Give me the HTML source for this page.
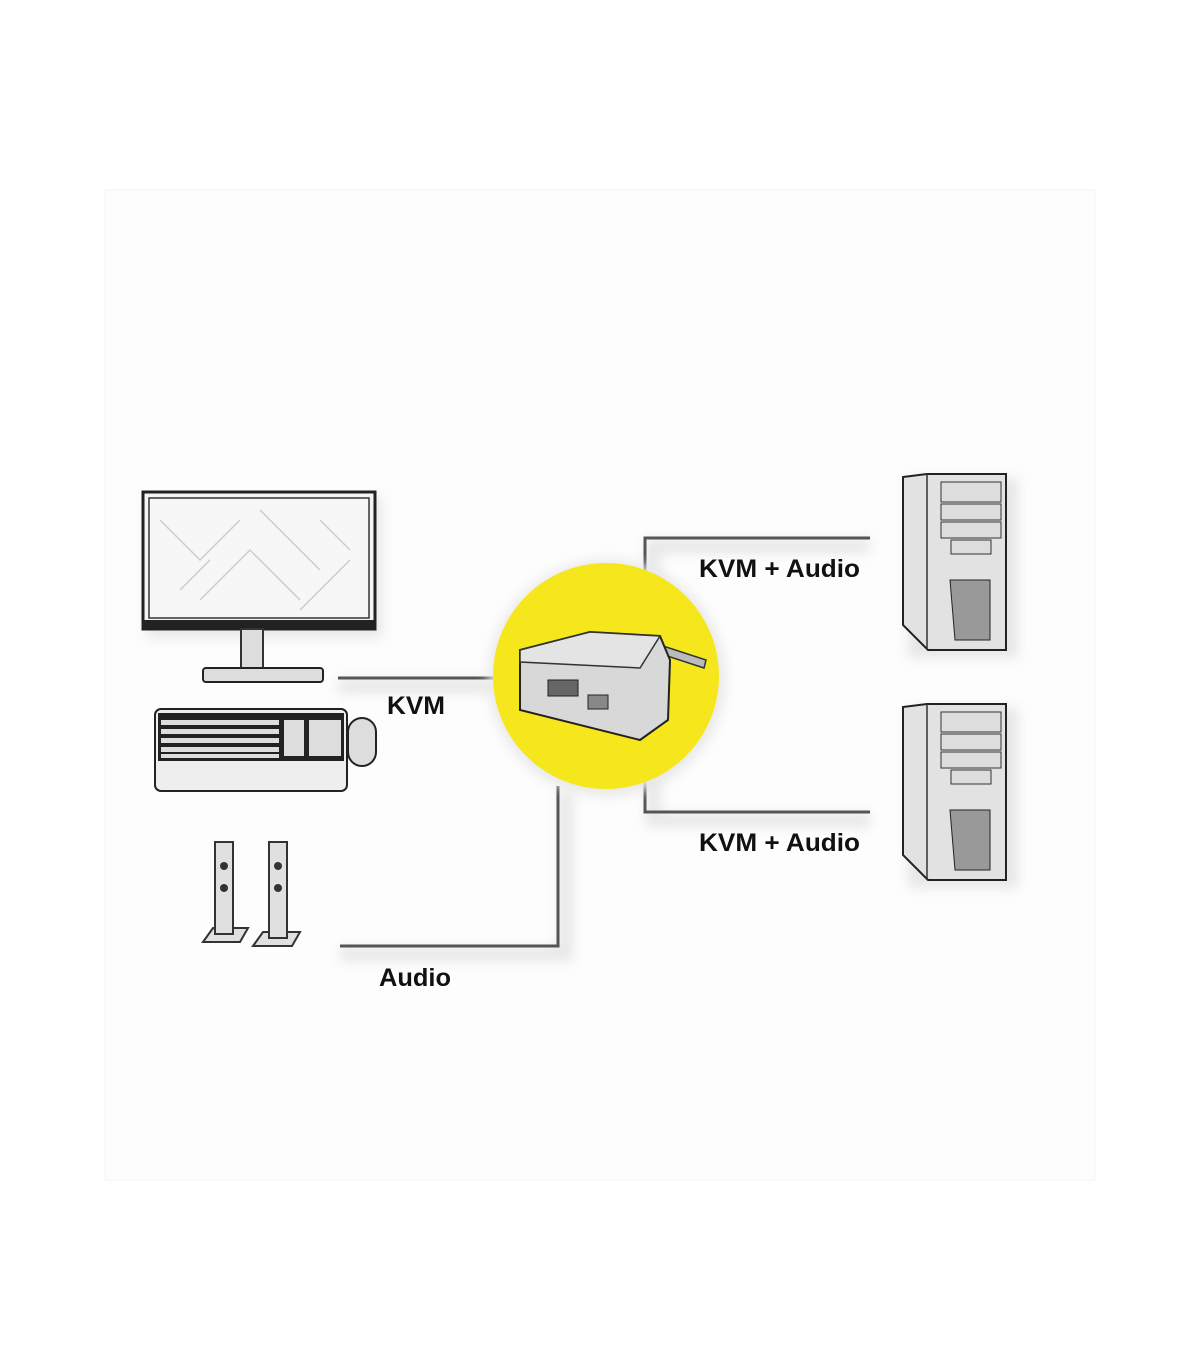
<!DOCTYPE html>
<html><head><meta charset="utf-8"><style>
html,body{margin:0;padding:0;background:#fff;}
svg{display:block}
text{font-family:"Liberation Sans",sans-serif;font-weight:bold;fill:#111;}
</style></head><body>
<svg width="1200" height="1372" viewBox="0 0 1200 1372" xmlns="http://www.w3.org/2000/svg">
<defs>
<filter id="sh" x="-20%" y="-20%" width="140%" height="140%"><feGaussianBlur stdDeviation="6"/></filter>
</defs>
<rect x="0" y="0" width="1200" height="1372" fill="#fff"/>
<rect x="105" y="190" width="990" height="990" fill="#fdfdfd" stroke="#f4f4f4"/>

<g stroke="#e6e6e6" stroke-width="14" fill="none" filter="url(#sh)">
<path d="M338 686 H495"/><path d="M340 954 H566 V790"/>
<path d="M653 610 V546 H870"/><path d="M653 770 V820 H870"/>
</g>
<g stroke="#555" stroke-width="3" fill="none">
<path d="M338 678 H497"/>
<path d="M340 946 H558 V786"/>
<path d="M645 600 V538 H870"/>
<path d="M645 774 V812 H870"/>
</g>

<rect x="146" y="498" width="236" height="140" fill="#e8e8e8" filter="url(#sh)"/>
<rect x="143" y="492" width="232" height="137" fill="#f4f4f4" stroke="#222" stroke-width="3"/>
<rect x="149" y="498" width="220" height="120" fill="#f7f7f7" stroke="#333" stroke-width="1.5"/>
<g stroke="#ccc" stroke-width="1.5" fill="none">
<path d="M160 520 l40 40 l40 -40 M200 600 l50 -50 l50 50 M260 510 l60 60 M300 610 l50 -50 M180 590 l30 -30 M320 520 l30 30"/>
</g>
<rect x="143" y="620" width="232" height="9" fill="#222"/>
<rect x="241" y="629" width="22" height="42" fill="#ddd" stroke="#333" stroke-width="2"/>
<rect x="203" y="668" width="120" height="14" rx="3" fill="#ddd" stroke="#222" stroke-width="2"/>

<rect x="155" y="709" width="192" height="82" rx="6" fill="#eee" stroke="#222" stroke-width="2"/>
<rect x="158" y="713" width="186" height="48" fill="#222"/>
<g fill="#ddd">
<rect x="161" y="720" width="118" height="5"/><rect x="161" y="729" width="118" height="5"/><rect x="161" y="738" width="118" height="5"/><rect x="161" y="747" width="118" height="5"/><rect x="161" y="754" width="118" height="4"/>
<rect x="284" y="720" width="20" height="36"/><rect x="309" y="720" width="32" height="36"/>
</g>
<rect x="348" y="718" width="28" height="48" rx="14" fill="#ddd" stroke="#222" stroke-width="2"/>

<g fill="#e0e0e0" stroke="#333" stroke-width="2">
<path d="M203 942 L213 928 H248 L240 942 Z"/>
<rect x="215" y="842" width="18" height="92"/>
<path d="M253 946 L263 932 H300 L292 946 Z"/>
<rect x="269" y="842" width="18" height="96"/>
</g>
<g fill="#333"><circle cx="224" cy="866" r="4"/><circle cx="224" cy="888" r="4"/><circle cx="278" cy="866" r="4"/><circle cx="278" cy="888" r="4"/></g>

<circle cx="607" cy="678" r="118" fill="#e8e8e8" filter="url(#sh)"/>
<circle cx="606" cy="676" r="113" fill="#f6e71d"/>
<path d="M660 645 L706 660 L704 668 L655 652 Z" fill="#bbb" stroke="#333" stroke-width="1.5"/>
<path d="M520 650 L590 632 L660 636 L670 660 L668 720 L640 740 L520 710 Z" fill="#d8d8d8" stroke="#222" stroke-width="2"/>
<path d="M520 650 L590 632 L660 636 L640 668 L520 662 Z" fill="#e4e4e4" stroke="#333" stroke-width="1.5"/>
<rect x="548" y="680" width="30" height="16" fill="#666" stroke="#222"/>
<rect x="588" y="695" width="20" height="14" fill="#888" stroke="#222"/>

<g>
<rect x="908" y="478" width="110" height="180" fill="#e6e6e6" filter="url(#sh)"/>
<path d="M903 477 L927 474 H1006 V650 H928 L903 625 Z" fill="#e2e2e2" stroke="#222" stroke-width="2"/>
<path d="M927 474 V650" stroke="#333" stroke-width="1.5"/>
<rect x="941" y="482" width="60" height="20" fill="#ddd" stroke="#333"/>
<rect x="941" y="504" width="60" height="16" fill="#ddd" stroke="#333"/>
<rect x="941" y="522" width="60" height="16" fill="#ddd" stroke="#333"/>
<rect x="951" y="540" width="40" height="14" fill="#ddd" stroke="#333"/>
<path d="M950 580 H990 V640 H955 Z" fill="#999" stroke="#222"/>
</g>
<g>
<rect x="908" y="708" width="110" height="180" fill="#e6e6e6" filter="url(#sh)"/>
<path d="M903 707 L927 704 H1006 V880 H928 L903 855 Z" fill="#e2e2e2" stroke="#222" stroke-width="2"/>
<path d="M927 704 V880" stroke="#333" stroke-width="1.5"/>
<rect x="941" y="712" width="60" height="20" fill="#ddd" stroke="#333"/>
<rect x="941" y="734" width="60" height="16" fill="#ddd" stroke="#333"/>
<rect x="941" y="752" width="60" height="16" fill="#ddd" stroke="#333"/>
<rect x="951" y="770" width="40" height="14" fill="#ddd" stroke="#333"/>
<path d="M950 810 H990 V870 H955 Z" fill="#999" stroke="#222"/>
</g>

<text x="387" y="714" font-size="25" textLength="58" lengthAdjust="spacingAndGlyphs">KVM</text>
<text x="699" y="577" font-size="25" textLength="161" lengthAdjust="spacingAndGlyphs">KVM + Audio</text>
<text x="699" y="851" font-size="25" textLength="161" lengthAdjust="spacingAndGlyphs">KVM + Audio</text>
<text x="379" y="986" font-size="25" textLength="72" lengthAdjust="spacingAndGlyphs">Audio</text>
</svg>
</body></html>
